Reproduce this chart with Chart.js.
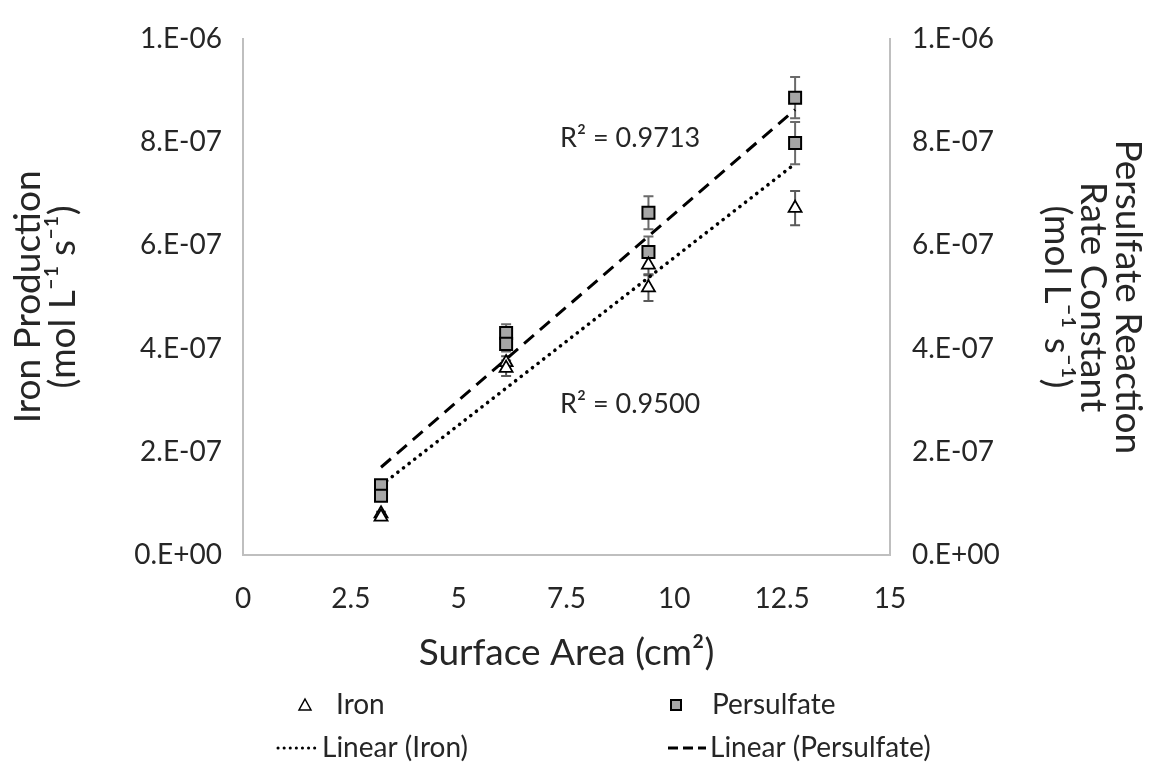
<!DOCTYPE html>
<html>
<head>
<meta charset="utf-8">
<script src="https://cdn.jsdelivr.net/npm/chart.js@4.4.0/dist/chart.umd.min.js"></script>
<style>
  html, body { margin: 0; padding: 0; background: #fff; }
  #wrap { width: 1171px; height: 763px; position: relative; }
</style>
</head>
<body>
<div id="wrap"><canvas id="myChart"></canvas></div>
<script>
// Dados
const ironArea = [3.2, 3.2, 6.1, 6.1, 9.4, 9.4, 12.8];
const ironValues = [0.080e-6, 0.074e-6, 0.373e-6, 0.362e-6, 0.562e-6, 0.518e-6, 0.672e-6];
const ironErrors = [0.004e-6, 0.004e-6, 0.012e-6, 0.015e-6, 0.020e-6, 0.026e-6, 0.033e-6];

const persArea = [3.2, 3.2, 6.1, 6.1, 9.4, 9.4, 12.8, 12.8];
const persValues = [0.135e-6, 0.115e-6, 0.430e-6, 0.409e-6, 0.663e-6, 0.587e-6, 0.886e-6, 0.798e-6];
const persErrors = [0.006e-6, 0.006e-6, 0.017e-6, 0.015e-6, 0.032e-6, 0.030e-6, 0.040e-6, 0.041e-6];

// linhas de tendência (pontas)
const ironFitX = [3.2, 12.8];
const ironFitY = [0.135e-6, 0.758e-6];
const persFitX = [3.2, 12.8];
const persFitY = [0.170e-6, 0.863e-6];

const r2Labels = ['R² = 0.9713', 'R² = 0.9500'];

const xTicks = [0, 2.5, 5, 7.5, 10, 12.5, 15];
const yTicks = [0, 2e-7, 4e-7, 6e-7, 8e-7, 1e-6];

const FONT = 'Lato';
const TXT = '#262626';

function pts(xs, ys) {
    return xs.map((x, i) => ({ x: x, y: ys[i] }));
}

function sciLabel(v) {
    if (v === 0) return '0.E+00';
    const exp = Math.floor(Math.log10(Math.abs(v)) + 1e-9);
    const mant = Math.round(v / Math.pow(10, exp));
    return mant + '.E' + (exp < 0 ? '-' : '+') + String(Math.abs(exp)).padStart(2, '0');
}

// barras de erro, desenhadas por baixo dos marcadores
const errorBars = {
    id: 'errorBars',
    beforeDatasetsDraw(chart) {
        const ctx = chart.ctx;
        const xs = chart.scales.x;
        chart.data.datasets.forEach(ds => {
            if (!ds.errors) return;
            const ys = chart.scales[ds.yAxisID];
            ctx.save();
            ctx.strokeStyle = ds.errorColor;
            ctx.lineWidth = 2;
            ds.data.forEach((p, i) => {
                const e = ds.errors[i];
                const px = xs.getPixelForValue(p.x);
                const top = ys.getPixelForValue(p.y + e);
                const bot = ys.getPixelForValue(p.y - e);
                ctx.beginPath();
                ctx.moveTo(px, top); ctx.lineTo(px, bot);
                ctx.moveTo(px - 5, top); ctx.lineTo(px + 5, top);
                ctx.moveTo(px - 5, bot); ctx.lineTo(px + 5, bot);
                ctx.stroke();
            });
            ctx.restore();
        });
    }
};

// textos de R² e a legenda em duas colunas
const extras = {
    id: 'extras',
    afterDraw(chart) {
        const ctx = chart.ctx;
        const xs = chart.scales.x, ys = chart.scales.y;
        ctx.save();
        ctx.fillStyle = TXT;
        ctx.font = '27px ' + FONT;
        ctx.textAlign = 'right';
        ctx.textBaseline = 'middle';
        ctx.fillText(r2Labels[0], xs.getPixelForValue(10.6), ys.getPixelForValue(0.807e-6));
        ctx.fillText(r2Labels[1], xs.getPixelForValue(10.6), ys.getPixelForValue(0.291e-6));

        const ds = chart.data.datasets;
        const cols = [276, 668];
        const rows = [705, 748];
        ctx.textAlign = 'left';
        ctx.font = '28px ' + FONT;
        // marcadores
        ctx.lineWidth = 1.5;
        ctx.strokeStyle = '#000';
        ctx.fillStyle = '#fff';
        const tx = cols[0] + 29, tyy = rows[0];
        ctx.beginPath();
        ctx.moveTo(tx, tyy - 6);
        ctx.lineTo(tx + 6, tyy + 5);
        ctx.lineTo(tx - 6, tyy + 5);
        ctx.closePath();
        ctx.fill(); ctx.stroke();
        ctx.fillStyle = '#a6a6a6';
        ctx.lineWidth = 2;
        ctx.fillRect(cols[1] + 3, rows[0] - 5, 10, 10);
        ctx.strokeRect(cols[1] + 3, rows[0] - 5, 10, 10);
        // linhas
        ctx.lineWidth = 3;
        ctx.lineCap = 'round';
        ctx.setLineDash([0.1, 6]);
        ctx.beginPath(); ctx.moveTo(cols[0] + 2, rows[1]); ctx.lineTo(cols[0] + 42, rows[1]); ctx.stroke();
        ctx.lineCap = 'butt';
        ctx.setLineDash([10, 5]);
        ctx.beginPath(); ctx.moveTo(cols[1], rows[1]); ctx.lineTo(cols[1] + 38, rows[1]); ctx.stroke();
        ctx.setLineDash([]);
        ctx.fillStyle = TXT;
        ctx.fillText(ds[0].label, cols[0] + 60, rows[0]);
        ctx.fillText(ds[1].label, cols[1] + 44, rows[0]);
        ctx.fillText(ds[2].label, cols[0] + 46, rows[1]);
        ctx.fillText(ds[3].label, cols[1] + 42, rows[1]);
        ctx.restore();
    }
};

const data = {
    datasets: [{
        label: 'Iron',
        data: pts(ironArea, ironValues),
        errors: ironErrors,
        errorColor: '#5a5a5a',
        yAxisID: 'y',
        pointStyle: 'triangle',
        pointRadius: 7.5,
        backgroundColor: '#ffffff',
        borderColor: '#000000',
        borderWidth: 1.8
    }, {
        label: 'Persulfate',
        data: pts(persArea, persValues),
        errors: persErrors,
        errorColor: '#6a6a6a',
        yAxisID: 'y2',
        pointStyle: 'rect',
        pointRadius: 8.5,
        backgroundColor: '#a6a6a6',
        borderColor: '#000000',
        borderWidth: 2
    }, {
        label: 'Linear (Iron)',
        data: pts(ironFitX, ironFitY),
        yAxisID: 'y',
        showLine: true,
        pointRadius: 0,
        borderColor: '#000000',
        borderWidth: 3.6,
        borderDash: [0.1, 7],
        borderCapStyle: 'round'
    }, {
        label: 'Linear (Persulfate)',
        data: pts(persFitX, persFitY),
        yAxisID: 'y2',
        showLine: true,
        pointRadius: 0,
        borderColor: '#000000',
        borderWidth: 3,
        borderDash: [13, 8]
    }]
};

const yCommon = {
    type: 'linear',
    min: 0,
    max: 1e-6,
    afterBuildTicks: s => { s.ticks = yTicks.map(v => ({ value: v })); },
    grid: { display: false, drawTicks: false },
    border: { display: true, color: '#bfbfbf', width: 2 },
    ticks: { font: { family: FONT, size: 28 }, color: TXT, callback: v => sciLabel(v) }
};

const titleFont = { family: FONT, size: 37, lineHeight: 0.96 };

const options = {
    responsive: true,
    maintainAspectRatio: false,
    animation: false,
    layout: { padding: { left: 10, right: 20, top: 32, bottom: 10 } },
    plugins: { legend: { display: false }, tooltip: { enabled: false } },
    scales: {
        x: {
            type: 'linear',
            min: 0,
            max: 15,
            afterBuildTicks: s => { s.ticks = xTicks.map(v => ({ value: v })); },
            afterFit: s => { s.height = 198; },
            grid: { display: false, drawTicks: false },
            border: { display: true, color: '#bfbfbf', width: 2 },
            ticks: { font: { family: FONT, size: 28 }, color: TXT, padding: 27, maxRotation: 0 },
            title: {
                display: true, text: 'Surface Area (cm²)', color: TXT,
                font: titleFont,
                padding: { top: 0, bottom: 82 }
            }
        },
        y: Object.assign({}, yCommon, {
            position: 'left',
            afterFit: s => { s.width = 233; },
            ticks: Object.assign({}, yCommon.ticks, { padding: 21 }),
            title: {
                display: true, text: ['Iron Production', '(mol L⁻¹ s⁻¹)'], color: TXT,
                font: titleFont,
                padding: { top: 0, bottom: 0 }
            }
        }),
        y2: Object.assign({}, yCommon, {
            position: 'right',
            afterFit: s => { s.width = 261; },
            ticks: Object.assign({}, yCommon.ticks, { padding: 22 }),
            title: {
                display: true, text: ['Persulfate Reaction', 'Rate Constant', '(mol L⁻¹ s⁻¹)'], color: TXT,
                font: titleFont,
                padding: { top: 5, bottom: 0 }
            }
        })
    }
};

const ctx = document.getElementById('myChart').getContext('2d');
const myChart = new Chart(ctx, {
    type: 'scatter',
    data: data,
    options: options,
    plugins: [errorBars, extras]
});
</script>
</body>
</html>
